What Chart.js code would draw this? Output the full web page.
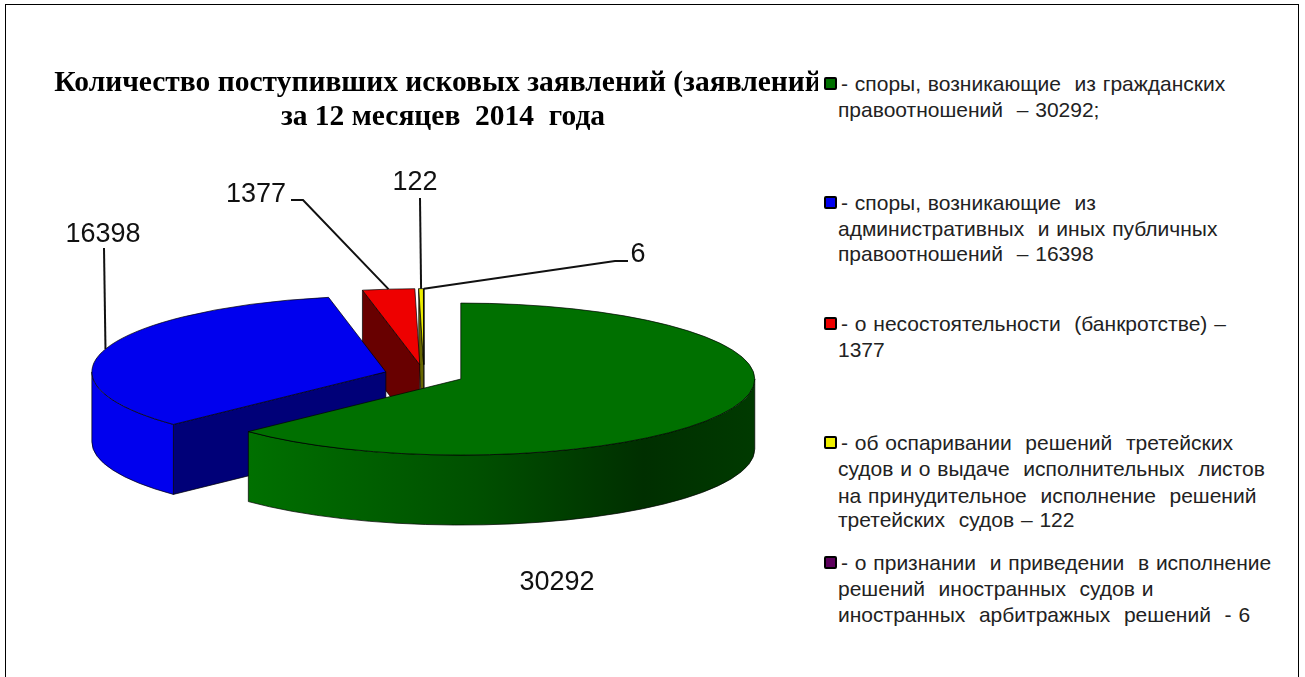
<!DOCTYPE html>
<html lang="ru">
<head>
<meta charset="utf-8">
<style>
    body { margin: 0; background: #fff; overflow: hidden; }
    #frame { position: absolute; left: 5px; top: 4px; width: 1292px; height: 690px; border: 1.5px solid #000; }
    #chart { position: absolute; left: 0; top: 0; }
    #legend { position: absolute; left: 818px; top: 60px; width: 478px; height: 600px; background: #fff; }
    #legend .line { position: absolute; white-space: pre; font: 21px "Liberation Sans", Arial, sans-serif; color: #222; line-height: 20px; word-spacing: 1px; }
    #legend .box { position: absolute; left: 6px; width: 9px; height: 9px; border: 2px solid #000; border-radius: 2px; }
</style>
</head>
<body>
<div id="frame"></div>
<canvas id="chart" width="1305" height="677"></canvas>
<div id="legend"></div>
<script src="https://cdn.jsdelivr.net/npm/chart.js@4"></script>
<script>
const categories = ['гражданские', 'публичные', 'банкротство', 'третейские суды', 'иностранные суды'];
const values = [30292, 16398, 1377, 122, 6];
const titleLines = ['Количество поступивших исковых заявлений (заявлений)', 'за 12 месяцев  2014  года'];

const sliceColors = ['#007000', '#0000ee', '#ee0000', '#eeee00', '#5c005c'];
const edgeColors = ['#003800', '#000078', '#680000', '#666600', '#300030'];
const wallColors = [null, '#0000ee', '#ee0000', '#eeee00', '#5c005c'];

const legendLines = [
    ['- споры, возникающие  из гражданских', 'правоотношений  – 30292;'],
    ['- споры, возникающие  из', 'административных  и иных публичных', 'правоотношений  – 16398'],
    ['- о несостоятельности  (банкротстве) –', '1377'],
    ['- об оспаривании  решений  третейских', 'судов и о выдаче  исполнительных  листов', 'на принудительное  исполнение  решений', 'третейских  судов – 122'],
    ['- о признании  и приведении  в исполнение', 'решений  иностранных  судов и', 'иностранных  арбитражных  решений  - 6']
];
const legendSwatches = ['#007000', '#0000ee', '#ee0000', '#eeee00', '#5c005c'];
const legendTops = [
    [84, 110],
    [203, 229, 254],
    [324, 350],
    [443, 469, 496, 520],
    [563, 589, 615]
];

// pie geometry on the page (the tilted 3D look)
const pieX = 424, pieY = 375, pieRadius = 294, squash = 76 / 294, depth = 70, explode = 40;

// where the value labels sit, and the bend of each leader line
const labelPos = [[557, 583], [103, 235], [256, 195], [415, 183], [638, 255]];
const leaders = [null, [[104, 248]], [[303, 200], [291, 200]], [[420, 198]], [[615, 261], [628, 261]]];

// html legend, it also hides the end of the title like in the original
const legendEl = document.getElementById('legend');
legendLines.forEach(function(lines, i) {
    lines.forEach(function(text, j) {
        const div = document.createElement('div');
        div.className = 'line';
        div.textContent = text;
        div.style.left = (j === 0 ? 841 : 838) - 818 + 'px';
        div.style.top = legendTops[i][j] - 60 - 10 + 'px';
        legendEl.appendChild(div);
    });
    const box = document.createElement('div');
    box.className = 'box';
    box.style.top = legendTops[i][0] - 60 - 7 + 'px';
    box.style.background = legendSwatches[i];
    legendEl.appendChild(box);
});

let centerX = 0, centerY = 0;

function projX(arc) { return arc.x + pieX - centerX; }
function projY(arc) { return pieY + (arc.y - centerY) * squash; }

function drawFace(ctx, arc, angle, color) {
    const x = projX(arc), y = projY(arc);
    const ex = x + Math.cos(angle) * arc.outerRadius;
    const ey = y + Math.sin(angle) * arc.outerRadius * squash;
    ctx.beginPath();
    ctx.moveTo(x, y);
    ctx.lineTo(ex, ey);
    ctx.lineTo(ex, ey + depth);
    ctx.lineTo(x, y + depth);
    ctx.closePath();
    ctx.fillStyle = color;
    ctx.fill();
    ctx.stroke();
}

function drawWall(ctx, arc, from, to, fill) {
    const x = projX(arc), y = projY(arc), r = arc.outerRadius;
    ctx.beginPath();
    ctx.ellipse(x, y, r, r * squash, 0, from, to, false);
    ctx.ellipse(x, y + depth, r, r * squash, 0, to, from, true);
    ctx.closePath();
    ctx.fillStyle = fill;
    ctx.fill();
    ctx.stroke();
}

const pie3d = {
    id: 'pie3d',
    afterDatasetUpdate(chart) {
        const arcs = chart.getDatasetMeta(0).data;
        centerX = arcs[0].x;
        centerY = arcs[0].y;
        // move slices out by hand, the offset option also changes their radius
        arcs.forEach(function(arc) {
            const mid = (arc.startAngle + arc.endAngle) / 2;
            arc.x += Math.cos(mid) * explode;
            arc.y += Math.sin(mid) * explode;
        });
    },
    beforeDatasetsDraw(chart) {
        const ctx = chart.ctx;
        const arcs = chart.getDatasetMeta(0).data;
        ctx.save();
        ctx.strokeStyle = '#000';
        ctx.lineWidth = 0.7;
        // back slices first, green is in front of all
        for (let i = arcs.length - 1; i >= 0; i--) {
            const arc = arcs[i];
            if (Math.cos(arc.startAngle) < 0) drawFace(ctx, arc, arc.startAngle, edgeColors[i]);
            if (Math.cos(arc.endAngle) > 0) drawFace(ctx, arc, arc.endAngle, edgeColors[i]);
            const from = Math.max(arc.startAngle, 0), to = Math.min(arc.endAngle, Math.PI);
            if (to > from) {
                let fill = wallColors[i];
                if (!fill) {
                    fill = ctx.createLinearGradient(249, 0, 755, 0);
                    fill.addColorStop(0, '#007000');
                    fill.addColorStop(0.45, '#005000');
                    fill.addColorStop(0.78, '#002f00');
                    fill.addColorStop(1, '#003a00');
                }
                drawWall(ctx, arc, from, to, fill);
            }
        }
        ctx.restore();
        // the library draws the top faces through this squashed transform
        ctx.save();
        ctx.translate(pieX - centerX, pieY);
        ctx.scale(1, squash);
        ctx.translate(0, -centerY);
    },
    afterDatasetsDraw(chart) {
        const ctx = chart.ctx;
        const arcs = chart.getDatasetMeta(0).data;
        ctx.restore();

        ctx.save();
        ctx.strokeStyle = '#000';
        ctx.lineWidth = 0.7;
        arcs.forEach(function(arc) {
            const x = projX(arc), y = projY(arc), r = arc.outerRadius;
            ctx.beginPath();
            ctx.moveTo(x, y);
            ctx.ellipse(x, y, r, r * squash, 0, arc.startAngle, arc.endAngle, false);
            ctx.closePath();
            ctx.stroke();
        });

        // leader lines and value labels
        ctx.lineWidth = 2;
        ctx.strokeStyle = '#111';
        arcs.forEach(function(arc, i) {
            if (!leaders[i]) return;
            const mid = (arc.startAngle + arc.endAngle) / 2;
            ctx.beginPath();
            ctx.moveTo(projX(arc) + Math.cos(mid) * arc.outerRadius, projY(arc) + Math.sin(mid) * arc.outerRadius * squash);
            leaders[i].forEach(function(p) { ctx.lineTo(p[0], p[1]); });
            ctx.stroke();
        });
        ctx.fillStyle = '#111';
        ctx.font = '27px "Liberation Sans", Arial, sans-serif';
        ctx.textAlign = 'center';
        ctx.textBaseline = 'middle';
        values.forEach(function(v, i) {
            ctx.fillText(String(v), labelPos[i][0], labelPos[i][1]);
        });
        ctx.restore();
    }
};

new Chart(document.getElementById('chart'), {
    type: 'pie',
    data: {
        labels: categories,
        datasets: [{
            data: values,
            backgroundColor: sliceColors,
            borderWidth: 0,
            clip: false
        }]
    },
    options: {
        responsive: false,
        animation: false,
        radius: pieRadius,
        layout: { padding: { right: 419 } },
        plugins: {
            legend: { display: false },
            tooltip: { enabled: false },
            title: {
                display: true,
                text: titleLines,
                color: '#000',
                font: { family: '"Liberation Serif", "Times New Roman", serif', size: 29.5, weight: 'bold', lineHeight: 1.15 },
                padding: { top: 66, bottom: 0 }
            }
        }
    },
    plugins: [pie3d]
});
</script>
</body>
</html>
